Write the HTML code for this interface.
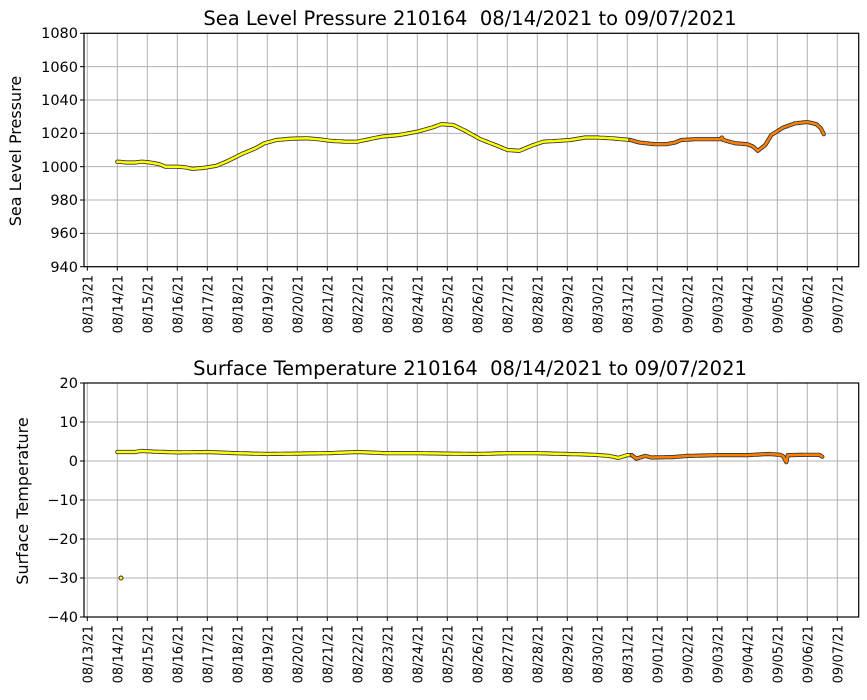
<!DOCTYPE html>
<html><head><meta charset="utf-8"><style>
body{margin:0;background:#fff}
svg{display:block;font-family:"DejaVu Sans","Liberation Sans",sans-serif}
</style></head><body>
<svg id="s" width="867" height="700" viewBox="0 0 867 700">
<rect width="867" height="700" fill="#fff"/>
<g id="g1"></g><g id="g2"></g>
<text x="470" y="25" font-size="19.5" text-anchor="middle" xml:space="preserve">Sea Level Pressure 210164  08/14/2021 to 09/07/2021</text>
<text x="470" y="375" font-size="19.5" text-anchor="middle" xml:space="preserve">Surface Temperature 210164  08/14/2021 to 09/07/2021</text>
<text transform="translate(21,151) rotate(-90)" font-size="16" text-anchor="middle">Sea Level Pressure</text>
<text transform="translate(28,501) rotate(-90)" font-size="16" text-anchor="middle">Surface Temperature</text>
<g font-size="14.5" text-anchor="end">
<text x="78" y="38">1080</text><text x="78" y="72">1060</text><text x="78" y="105">1040</text><text x="78" y="138">1020</text><text x="78" y="172">1000</text><text x="78" y="205">980</text><text x="78" y="238">960</text><text x="78" y="272">940</text>
<text x="78" y="388">20</text><text x="78" y="427">10</text><text x="78" y="466">0</text><text x="78" y="505">−10</text><text x="78" y="544">−20</text><text x="78" y="583">−30</text><text x="78" y="622">−40</text>
</g>
<g id="xl" font-size="13" text-anchor="end">
<text>08/13/21</text><text>08/14/21</text><text>08/15/21</text><text>08/16/21</text><text>08/17/21</text><text>08/18/21</text><text>08/19/21</text><text>08/20/21</text><text>08/21/21</text><text>08/22/21</text><text>08/23/21</text><text>08/24/21</text><text>08/25/21</text><text>08/26/21</text><text>08/27/21</text><text>08/28/21</text><text>08/29/21</text><text>08/30/21</text><text>08/31/21</text><text>09/01/21</text><text>09/02/21</text><text>09/03/21</text><text>09/04/21</text><text>09/05/21</text><text>09/06/21</text><text>09/07/21</text>
</g>
<g id="xl2" font-size="13" text-anchor="end">
<text>08/13/21</text><text>08/14/21</text><text>08/15/21</text><text>08/16/21</text><text>08/17/21</text><text>08/18/21</text><text>08/19/21</text><text>08/20/21</text><text>08/21/21</text><text>08/22/21</text><text>08/23/21</text><text>08/24/21</text><text>08/25/21</text><text>08/26/21</text><text>08/27/21</text><text>08/28/21</text><text>08/29/21</text><text>08/30/21</text><text>08/31/21</text><text>09/01/21</text><text>09/02/21</text><text>09/03/21</text><text>09/04/21</text><text>09/05/21</text><text>09/06/21</text><text>09/07/21</text>
</g>
</svg>
<script>
const NS="http://www.w3.org/2000/svg";
function el(p,t,a){const e=document.createElementNS(NS,t);for(const k in a)e.setAttribute(k,a[k]);p.appendChild(e);return e;}
const X=d=>87.3+30*d;
function axes(g,top,bot,ny){
  for(let i=0;i<=25;i++){const x=X(i);el(g,'line',{x1:x,x2:x,y1:top,y2:bot,stroke:'#b0b0b0','stroke-width':1});el(g,'line',{x1:x,x2:x,y1:bot,y2:bot+4,stroke:'#000'});}
  for(let j=0;j<ny;j++){const y=top+(bot-top)*j/(ny-1);el(g,'line',{x1:84,x2:858.7,y1:y,y2:y,stroke:'#b0b0b0'});el(g,'line',{x1:80,x2:84,y1:y,y2:y,stroke:'#000'});}
  el(g,'rect',{x:84,y:top,width:774.7,height:bot-top,fill:'none',stroke:'#000','stroke-width':1.2});
}
axes(document.getElementById('g1'),33.3,266.7,8);
axes(document.getElementById('g2'),383,617,7);
function interp(kp,step){const out=[];for(let i=0;i<kp.length-1;i++){const [d0,v0]=kp[i],[d1,v1]=kp[i+1];for(let d=d0;d<d1;d+=step)out.push([d,v0+(v1-v0)*(d-d0)/(d1-d0)]);}out.push(kp[kp.length-1]);return out;}
function draw(g,pts,fx,fy,col){const s=pts.map(p=>fx(p[0]).toFixed(1)+','+fy(p[1]).toFixed(1)).join(' ');
 el(g,'polyline',{points:s,fill:'none',stroke:'#333','stroke-width':4.2,'stroke-linejoin':'round','stroke-linecap':'round'});
 el(g,'polyline',{points:s,fill:'none',stroke:col,'stroke-width':2.5,'stroke-linejoin':'round','stroke-linecap':'round'});}
const g1=document.getElementById('g1'),g2=document.getElementById('g2');
const Y1=v=>33.3+(1080-v)*233.4/140, Y2=v=>383+(20-v)*3.9;
const p1=[[1,1003],[1.3,1002.5],[1.6,1002.5],[1.8,1003],[2.1,1002.5],[2.4,1001.5],[2.6,1000],[3,1000],[3.3,999.5],[3.5,998.7],[3.9,999.3],[4.3,1000.5],[4.7,1003.5],[5.2,1008],[5.6,1011],[5.9,1014],[6.3,1016],[6.8,1016.8],[7.3,1017],[7.7,1016.5],[8.1,1015.5],[8.6,1015],[9,1015],[9.4,1016.5],[9.8,1018],[10.4,1019],[11,1021],[11.5,1023.5],[11.8,1025.5],[12.2,1025],[12.6,1021.5],[13.1,1016.5],[13.6,1013],[14,1010],[14.4,1009.5],[14.8,1012.5],[15.2,1015],[15.7,1015.5],[16.1,1016],[16.6,1017.5],[17,1017.5],[17.5,1017],[18.1,1016]];
const p1o=[[18.1,1016],[18.4,1014.5],[18.9,1013.5],[19.3,1013.5],[19.6,1014.5],[19.8,1016],[20.3,1016.5],[20.7,1016.5],[21.1,1016.5],[21.2,1018.5],[21.2,1016],[21.6,1014],[22,1013.5],[22.2,1012],[22.35,1009.5],[22.6,1013],[22.8,1019],[23.2,1023.5],[23.6,1026],[24,1026.8],[24.3,1025.5],[24.45,1023],[24.55,1019.5]];
draw(g1,interp(p1,0.1),X,Y1,'#ffff00');
draw(g1,interp(p1o,0.05),X,Y1,'#ff8000');
const t1=[[1,2.3],[1.6,2.3],[1.8,2.6],[2.2,2.4],[3,2.2],[4,2.3],[5,2],[6,1.8],[7,1.9],[8,2],[9,2.3],[10,2],[11,2],[12,1.9],[13,1.8],[14,2],[15,2],[16,1.8],[16.9,1.6],[17.4,1.3],[17.7,0.8],[18,1.5],[18.15,1.5]];
const t2=[[18.15,1.5],[18.3,0.6],[18.6,1.3],[18.8,0.9],[19.5,1],[20,1.3],[21,1.5],[22,1.5],[22.7,1.8],[23.1,1.6],[23.2,1.2],[23.3,-0.3],[23.35,1.5],[24,1.6],[24.4,1.6],[24.5,1.1]];
draw(g2,interp(t1,0.1),X,Y2,'#ffff00');
draw(g2,interp(t2,0.05),X,Y2,'#ff8000');
el(g2,'circle',{cx:121,cy:Y2(-30),r:2,fill:'#ffff00',stroke:'#333','stroke-width':1});
[['xl',275],['xl2',625]].forEach(([id,y])=>{[...document.getElementById(id).children].forEach((t,i)=>{const x=X(i)+5;t.setAttribute('transform',`translate(${x},${y}) rotate(-90)`);});});
</script>
</body></html>
